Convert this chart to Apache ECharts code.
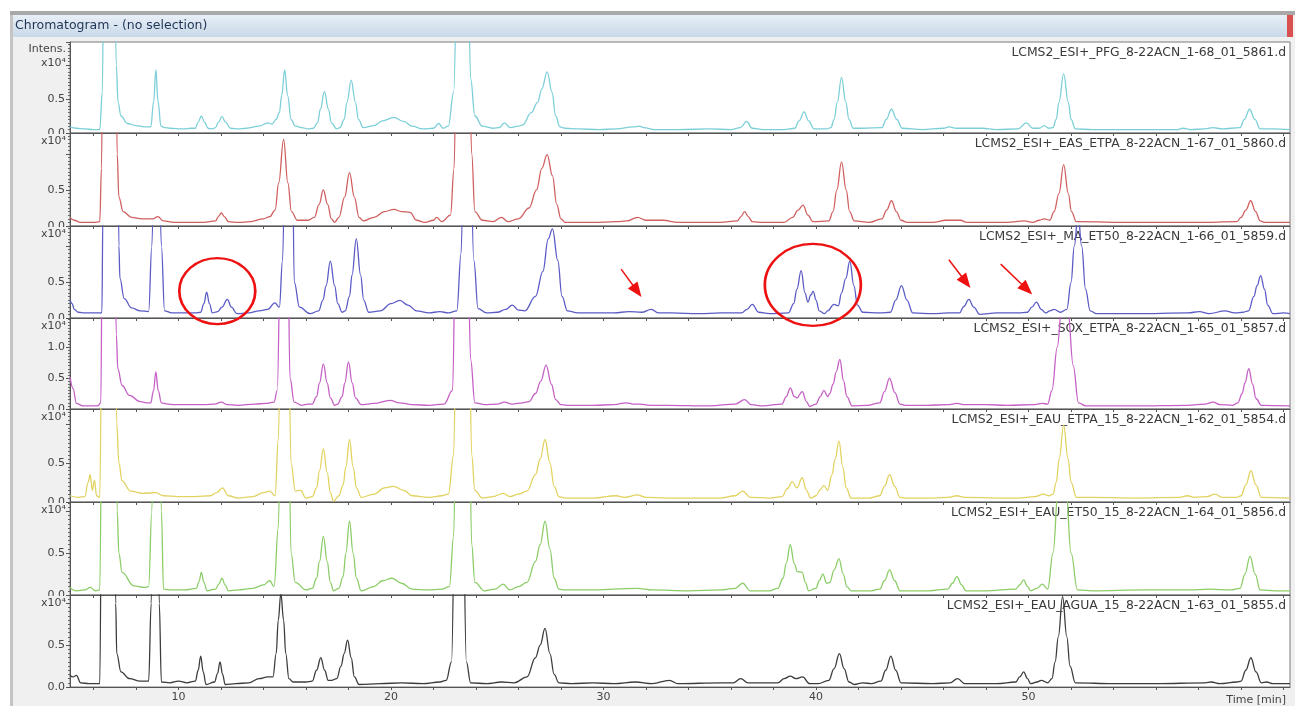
<!DOCTYPE html>
<html><head><meta charset="utf-8">
<script src="https://cdn.jsdelivr.net/npm/echarts@6/dist/echarts.min.js"></script>
<style>html,body{margin:0;padding:0;background:#fff}#c{width:1295px;height:706px}</style>
</head><body><div id="c"></div>
<script>
// ---- data (time [min], intensity x10^4) ----
const timeRange = [4.9, 62.3];
const xLabelValues = [10, 20, 30, 40, 50];
const xTickValues = [6,8,10,12,14,16,18,20,22,24,26,28,30,32,34,36,38,40,42,44,46,48,50,52,54,56,58,60,62];
const traceNames = [
  'LCMS2_ESI+_PFG_8-22ACN_1-68_01_5861.d',
  'LCMS2_ESI+_EAS_ETPA_8-22ACN_1-67_01_5860.d',
  'LCMS2_ESI+_MA_ET50_8-22ACN_1-66_01_5859.d',
  'LCMS2_ESI+_SOX_ETPA_8-22ACN_1-65_01_5857.d',
  'LCMS2_ESI+_EAU_ETPA_15_8-22ACN_1-62_01_5854.d',
  'LCMS2_ESI+_EAU_ET50_15_8-22ACN_1-64_01_5856.d',
  'LCMS2_ESI+_EAU_AGUA_15_8-22ACN_1-63_01_5855.d'
];
const yMaxValues = [1.34, 1.29, 1.28, 1.47, 1.19, 1.11, 1.1];

const tracePFG = [[4.9,0.09],[5.2,0.07],[5.6,0.06],[6.0,0.05],[6.3,0.05],[6.42,0.6],[6.5,3.0],[6.75,4.0],[6.97,3.0],[7.08,1.0],[7.16,0.45],[7.3,0.25],[7.6,0.14],[8.0,0.11],[8.4,0.09],[8.7,0.09],[8.84,0.47],[8.94,0.93],[9.04,0.47],[9.18,0.1],[9.35,0.08],[9.6,0.07],[10.2,0.06],[10.6,0.07],[10.8,0.07],[10.93,0.16],[11.08,0.25],[11.23,0.16],[11.4,0.07],[11.6,0.06],[11.75,0.08],[11.88,0.16],[12.05,0.24],[12.22,0.16],[12.45,0.07],[12.8,0.06],[13.2,0.07],[13.8,0.1],[14.2,0.15],[14.4,0.13],[14.6,0.2],[14.75,0.3],[14.86,0.55],[15.0,0.93],[15.14,0.55],[15.3,0.2],[15.5,0.1],[15.8,0.08],[16.1,0.06],[16.35,0.07],[16.55,0.15],[16.68,0.35],[16.87,0.61],[17.06,0.35],[17.2,0.15],[17.45,0.06],[17.6,0.08],[17.8,0.2],[17.93,0.45],[18.13,0.78],[18.33,0.45],[18.47,0.2],[18.7,0.08],[19.2,0.11],[19.6,0.18],[20.14,0.23],[20.6,0.17],[21.0,0.1],[21.5,0.06],[22.0,0.07],[22.25,0.14],[22.45,0.07],[22.7,0.1],[22.95,0.6],[23.15,3.0],[23.4,4.0],[23.6,3.0],[23.75,0.8],[23.95,0.25],[24.3,0.1],[24.8,0.07],[25.1,0.08],[25.34,0.15],[25.6,0.08],[26.0,0.1],[26.2,0.12],[26.6,0.3],[26.9,0.45],[27.1,0.65],[27.35,0.9],[27.58,0.6],[27.75,0.25],[27.95,0.09],[28.2,0.07],[28.8,0.06],[29.8,0.05],[30.6,0.06],[31.4,0.09],[31.7,0.1],[31.9,0.08],[32.4,0.05],[33.5,0.05],[35.0,0.06],[36.0,0.05],[36.45,0.08],[36.73,0.17],[37.0,0.07],[37.5,0.05],[38.5,0.05],[39.0,0.07],[39.2,0.18],[39.44,0.31],[39.65,0.18],[39.9,0.06],[40.5,0.06],[40.7,0.08],[40.85,0.2],[41.0,0.45],[41.2,0.82],[41.4,0.45],[41.55,0.2],[41.75,0.07],[42.2,0.07],[43.1,0.08],[43.3,0.2],[43.55,0.35],[43.8,0.2],[44.05,0.07],[45.0,0.05],[46.0,0.07],[46.26,0.09],[46.6,0.07],[47.8,0.07],[48.5,0.05],[49.5,0.06],[49.9,0.15],[50.2,0.07],[50.5,0.07],[50.74,0.11],[50.95,0.07],[51.15,0.08],[51.3,0.2],[51.43,0.45],[51.65,0.87],[51.87,0.45],[52.0,0.2],[52.2,0.06],[53,0.05],[55,0.05],[57,0.05],[57.28,0.07],[57.6,0.05],[58.3,0.06],[58.68,0.08],[59.1,0.06],[59.95,0.08],[60.15,0.2],[60.4,0.35],[60.65,0.2],[60.9,0.06],[61.5,0.06],[62.3,0.05]];

const traceEAS = [[4.9,0.12],[5.1,0.08],[5.4,0.05],[6.0,0.05],[6.3,0.06],[6.38,0.8],[6.45,3.0],[6.75,4.0],[7.05,3.0],[7.12,1.0],[7.2,0.4],[7.4,0.2],[7.8,0.12],[8.3,0.1],[8.8,0.1],[9.03,0.13],[9.3,0.07],[9.8,0.05],[10.6,0.05],[11.2,0.05],[11.75,0.07],[11.88,0.13],[12.02,0.18],[12.16,0.13],[12.35,0.06],[12.8,0.05],[13.4,0.06],[14.0,0.1],[14.3,0.13],[14.55,0.22],[14.72,0.6],[14.95,1.2],[15.15,0.6],[15.32,0.2],[15.6,0.08],[16.1,0.08],[16.4,0.12],[16.62,0.3],[16.82,0.5],[17.02,0.3],[17.2,0.1],[17.35,0.05],[17.55,0.12],[17.82,0.4],[18.05,0.74],[18.28,0.4],[18.5,0.12],[18.7,0.07],[19.2,0.12],[19.7,0.2],[20.14,0.23],[20.5,0.2],[20.9,0.19],[21.2,0.08],[21.6,0.05],[22.0,0.08],[22.15,0.12],[22.4,0.06],[22.8,0.15],[22.97,0.8],[23.1,3.0],[23.4,4.0],[23.65,3.0],[23.8,1.0],[23.95,0.2],[24.3,0.08],[24.8,0.06],[25.2,0.12],[25.5,0.06],[26.0,0.1],[26.5,0.25],[26.85,0.5],[27.1,0.8],[27.35,0.99],[27.6,0.7],[27.8,0.3],[28.0,0.1],[28.2,0.05],[29.5,0.05],[30.6,0.06],[31.1,0.07],[31.6,0.12],[32.0,0.08],[32.8,0.08],[33.5,0.05],[35.5,0.05],[36.3,0.07],[36.47,0.13],[36.64,0.2],[36.81,0.13],[37.0,0.06],[37.5,0.05],[38.5,0.05],[38.9,0.12],[39.15,0.22],[39.39,0.29],[39.62,0.15],[39.85,0.06],[40.6,0.07],[40.8,0.2],[40.98,0.5],[41.2,0.89],[41.42,0.5],[41.58,0.2],[41.8,0.07],[42.5,0.05],[43.1,0.1],[43.32,0.22],[43.55,0.35],[43.78,0.2],[44.0,0.08],[44.3,0.05],[45.5,0.05],[46.1,0.08],[46.5,0.08],[46.8,0.08],[47.1,0.05],[49.0,0.05],[49.8,0.07],[50.2,0.05],[50.5,0.08],[50.74,0.1],[51.0,0.08],[51.2,0.2],[51.43,0.45],[51.65,0.85],[51.87,0.45],[52.02,0.2],[52.25,0.06],[55,0.05],[58,0.05],[59.8,0.06],[60.0,0.12],[60.22,0.22],[60.45,0.35],[60.68,0.2],[60.9,0.07],[61.1,0.05],[62.3,0.05]];

const traceMA = [[4.9,0.25],[5.0,0.2],[5.1,0.12],[5.3,0.08],[5.6,0.07],[6.2,0.07],[6.4,0.07],[6.45,1.5],[6.52,3.0],[6.85,4.0],[7.15,3.0],[7.2,1.0],[7.25,0.55],[7.45,0.27],[7.8,0.14],[8.2,0.1],[8.6,0.09],[8.75,1.0],[8.9,3.0],[9.05,3.0],[9.2,1.0],[9.35,0.1],[9.7,0.07],[10.3,0.07],[10.8,0.07],[11.05,0.08],[11.2,0.2],[11.33,0.36],[11.46,0.2],[11.6,0.07],[11.85,0.09],[12.05,0.15],[12.3,0.26],[12.5,0.15],[12.75,0.06],[13.3,0.07],[13.8,0.1],[14.2,0.12],[14.54,0.21],[14.75,0.15],[14.9,0.8],[15.05,3.0],[15.35,3.0],[15.45,0.5],[15.7,0.15],[16.2,0.06],[16.6,0.1],[16.8,0.25],[16.95,0.45],[17.15,0.79],[17.35,0.45],[17.5,0.2],[17.7,0.08],[17.85,0.1],[18.05,0.3],[18.17,0.6],[18.37,1.1],[18.57,0.6],[18.72,0.25],[18.95,0.08],[19.5,0.1],[20.0,0.2],[20.42,0.245],[20.8,0.18],[21.2,0.1],[21.8,0.07],[22.3,0.09],[22.7,0.07],[23.1,0.1],[23.3,0.9],[23.45,3.0],[23.7,3.0],[23.9,0.8],[24.1,0.13],[24.5,0.07],[25.0,0.08],[25.4,0.12],[25.71,0.18],[26.0,0.11],[26.3,0.1],[26.8,0.3],[27.15,0.65],[27.4,1.1],[27.6,1.24],[27.85,0.8],[28.05,0.3],[28.3,0.1],[28.8,0.07],[29.5,0.07],[30.5,0.07],[31.2,0.09],[31.8,0.08],[32.25,0.12],[32.6,0.07],[33.2,0.07],[34.5,0.06],[35.5,0.07],[36.5,0.07],[36.75,0.12],[37.0,0.19],[37.3,0.08],[37.8,0.06],[38.7,0.07],[38.95,0.2],[39.1,0.4],[39.3,0.66],[39.48,0.35],[39.62,0.22],[39.75,0.32],[39.87,0.37],[40.0,0.25],[40.15,0.1],[40.4,0.06],[40.55,0.1],[40.84,0.19],[41.05,0.17],[41.2,0.35],[41.4,0.55],[41.59,0.79],[41.78,0.45],[41.95,0.18],[42.2,0.08],[43.0,0.07],[43.5,0.08],[43.75,0.25],[44.02,0.45],[44.28,0.25],[44.55,0.07],[45.5,0.06],[46.2,0.07],[46.75,0.07],[46.95,0.16],[47.19,0.26],[47.42,0.15],[47.7,0.05],[48.5,0.07],[49.5,0.07],[49.95,0.08],[50.15,0.15],[50.37,0.22],[50.6,0.12],[50.8,0.07],[51.0,0.1],[51.2,0.12],[51.5,0.08],[51.8,0.12],[52.0,0.5],[52.15,1.0],[52.33,1.45],[52.5,1.0],[52.68,0.4],[52.9,0.1],[53.2,0.06],[55,0.06],[57.5,0.07],[58.03,0.09],[58.5,0.06],[59.24,0.1],[59.7,0.07],[60.1,0.08],[60.35,0.1],[60.6,0.3],[60.75,0.45],[60.92,0.59],[61.1,0.4],[61.25,0.18],[61.5,0.06],[62.0,0.07],[62.3,0.06]];

const traceSOX = [[4.9,0.52],[5.05,0.33],[5.2,0.09],[5.5,0.05],[6.2,0.05],[6.35,0.1],[6.42,3.0],[6.75,4.0],[7.0,3.0],[7.08,1.2],[7.15,0.65],[7.35,0.38],[7.7,0.22],[8.2,0.12],[8.5,0.1],[8.7,0.1],[8.83,0.3],[8.94,0.6],[9.05,0.3],[9.2,0.1],[9.5,0.08],[9.8,0.07],[10.5,0.07],[11.2,0.07],[11.7,0.08],[12.02,0.11],[12.3,0.07],[12.8,0.06],[13.6,0.08],[14.1,0.09],[14.5,0.11],[14.65,0.3],[14.82,3.0],[15.14,3.0],[15.25,0.5],[15.45,0.11],[15.8,0.06],[16.1,0.08],[16.3,0.08],[16.5,0.2],[16.64,0.42],[16.82,0.73],[17.0,0.42],[17.15,0.18],[17.35,0.06],[17.5,0.08],[17.7,0.2],[17.83,0.42],[18.0,0.76],[18.18,0.42],[18.33,0.18],[18.6,0.07],[19.2,0.09],[19.96,0.14],[20.4,0.1],[21.0,0.07],[21.8,0.06],[22.5,0.08],[22.9,0.3],[23.05,3.0],[23.35,4.0],[23.6,3.0],[23.75,0.8],[23.95,0.1],[24.4,0.07],[25.0,0.08],[25.34,0.11],[25.7,0.08],[26.2,0.1],[26.5,0.12],[26.8,0.25],[27.05,0.45],[27.3,0.71],[27.55,0.4],[27.75,0.15],[28.0,0.07],[28.3,0.06],[29.5,0.06],[30.5,0.07],[31.07,0.1],[31.4,0.08],[31.7,0.08],[32.2,0.06],[33.0,0.06],[35.0,0.05],[36.2,0.08],[36.64,0.15],[36.95,0.07],[37.5,0.05],[38.4,0.08],[38.6,0.2],[38.79,0.34],[38.98,0.2],[39.1,0.18],[39.35,0.28],[39.55,0.12],[39.7,0.04],[40.0,0.08],[40.2,0.2],[40.37,0.3],[40.55,0.2],[40.65,0.25],[40.8,0.4],[40.95,0.6],[41.12,0.8],[41.3,0.45],[41.45,0.2],[41.7,0.05],[42.4,0.06],[43.0,0.1],[43.22,0.28],[43.46,0.5],[43.7,0.27],[43.95,0.08],[44.2,0.06],[45.2,0.06],[46.2,0.07],[46.63,0.09],[47.0,0.07],[48.0,0.07],[49.0,0.06],[50.2,0.07],[50.65,0.09],[50.9,0.08],[51.1,0.3],[51.35,1.0],[51.55,1.6],[51.85,1.6],[52.1,0.7],[52.35,0.1],[52.7,0.05],[55,0.05],[57.5,0.06],[58.3,0.08],[58.68,0.11],[59.0,0.07],[59.6,0.06],[59.85,0.1],[60.05,0.25],[60.18,0.42],[60.36,0.65],[60.54,0.4],[60.7,0.17],[60.95,0.06],[62.3,0.05]];

const traceEAU15 = [[4.9,0.08],[5.3,0.06],[5.6,0.07],[5.75,0.25],[5.85,0.35],[5.95,0.15],[6.05,0.28],[6.15,0.08],[6.3,0.06],[6.42,3.0],[6.75,4.0],[7.0,3.0],[7.1,1.0],[7.2,0.5],[7.35,0.27],[7.75,0.14],[8.3,0.11],[8.94,0.12],[9.3,0.08],[10.0,0.07],[10.8,0.07],[11.5,0.08],[11.8,0.12],[12.07,0.18],[12.35,0.08],[12.8,0.05],[13.5,0.07],[14.0,0.12],[14.3,0.14],[14.55,0.08],[14.7,0.8],[14.85,3.0],[15.15,3.0],[15.3,0.5],[15.5,0.14],[15.75,0.15],[16.0,0.05],[16.3,0.07],[16.5,0.18],[16.64,0.4],[16.82,0.68],[17.0,0.38],[17.15,0.12],[17.3,0.01],[17.55,0.08],[17.75,0.22],[17.88,0.45],[18.05,0.8],[18.22,0.45],[18.38,0.18],[18.6,0.06],[19.2,0.1],[19.7,0.18],[20.11,0.2],[20.6,0.15],[21.0,0.08],[21.8,0.06],[22.4,0.08],[22.7,0.1],[22.95,0.6],[23.1,3.0],[23.4,4.0],[23.65,3.0],[23.8,0.6],[23.95,0.15],[24.3,0.05],[24.8,0.07],[25.28,0.11],[25.6,0.07],[26.0,0.1],[26.4,0.14],[26.8,0.35],[27.02,0.55],[27.25,0.8],[27.48,0.5],[27.68,0.2],[27.9,0.07],[28.2,0.05],[29.5,0.05],[30.6,0.08],[31.0,0.06],[31.6,0.09],[32.0,0.06],[33.0,0.05],[35.5,0.05],[36.2,0.08],[36.55,0.14],[36.9,0.06],[37.8,0.05],[38.4,0.07],[38.65,0.17],[38.88,0.26],[39.1,0.18],[39.35,0.31],[39.55,0.15],[39.75,0.05],[40.0,0.08],[40.2,0.16],[40.37,0.21],[40.55,0.15],[40.75,0.35],[40.9,0.55],[41.08,0.78],[41.26,0.45],[41.42,0.18],[41.65,0.05],[42.5,0.05],[43.0,0.08],[43.22,0.2],[43.46,0.35],[43.7,0.2],[43.95,0.06],[44.2,0.05],[45.5,0.05],[46.2,0.06],[46.63,0.08],[47.0,0.06],[48.5,0.05],[49.5,0.05],[50.3,0.07],[50.7,0.1],[50.95,0.08],[51.15,0.1],[51.3,0.25],[51.44,0.55],[51.65,0.98],[51.86,0.55],[52.0,0.25],[52.25,0.06],[53.0,0.06],[55,0.05],[57.1,0.06],[57.47,0.08],[57.8,0.06],[58.4,0.07],[58.78,0.1],[59.1,0.06],[59.8,0.06],[60.0,0.08],[60.22,0.22],[60.46,0.4],[60.7,0.22],[60.95,0.06],[62.3,0.05]];

const traceEAU50 = [[4.9,0.09],[5.2,0.05],[5.6,0.06],[5.85,0.09],[6.1,0.05],[6.3,0.06],[6.42,3.0],[6.75,4.0],[7.05,3.0],[7.12,1.0],[7.2,0.5],[7.35,0.27],[7.9,0.11],[8.4,0.09],[8.6,0.1],[8.75,1.0],[8.88,3.0],[9.08,3.0],[9.2,1.0],[9.3,0.07],[9.7,0.06],[10.3,0.06],[10.85,0.08],[10.97,0.16],[11.08,0.27],[11.2,0.15],[11.35,0.05],[11.75,0.07],[11.9,0.13],[12.05,0.2],[12.2,0.12],[12.35,0.05],[12.8,0.06],[13.5,0.08],[14.0,0.12],[14.3,0.17],[14.5,0.1],[14.7,0.8],[14.85,3.0],[15.15,3.0],[15.3,0.5],[15.5,0.15],[16.0,0.06],[16.3,0.08],[16.5,0.2],[16.64,0.4],[16.82,0.7],[17.0,0.4],[17.15,0.15],[17.3,0.05],[17.55,0.08],[17.75,0.22],[17.88,0.5],[18.05,0.88],[18.22,0.5],[18.38,0.2],[18.6,0.05],[19.2,0.1],[19.6,0.17],[20.05,0.2],[20.5,0.14],[21.0,0.07],[21.7,0.06],[22.4,0.07],[22.75,0.1],[22.95,0.7],[23.1,3.0],[23.4,4.0],[23.65,3.0],[23.8,0.6],[23.95,0.15],[24.4,0.05],[24.9,0.07],[25.28,0.13],[25.6,0.06],[26.0,0.1],[26.4,0.15],[26.8,0.4],[27.02,0.6],[27.25,0.88],[27.48,0.55],[27.68,0.2],[27.9,0.07],[28.2,0.06],[29.5,0.06],[30.5,0.07],[31.6,0.08],[32.3,0.06],[34,0.05],[35.5,0.06],[36.2,0.08],[36.55,0.14],[36.9,0.05],[37.8,0.05],[38.2,0.08],[38.45,0.2],[38.6,0.38],[38.79,0.6],[38.97,0.38],[39.12,0.28],[39.35,0.27],[39.5,0.15],[39.65,0.05],[40.0,0.08],[40.15,0.17],[40.32,0.25],[40.5,0.14],[40.65,0.15],[40.85,0.3],[41.08,0.43],[41.28,0.25],[41.45,0.1],[41.65,0.05],[42.6,0.05],[43.0,0.07],[43.22,0.17],[43.46,0.3],[43.7,0.17],[43.95,0.05],[45.3,0.05],[46.2,0.07],[46.42,0.14],[46.63,0.22],[46.85,0.12],[47.05,0.05],[48,0.05],[49.4,0.07],[49.58,0.12],[49.77,0.18],[49.95,0.1],[50.1,0.05],[50.4,0.08],[50.65,0.13],[50.9,0.07],[51.15,0.5],[51.4,1.3],[51.75,1.3],[52.0,0.5],[52.3,0.06],[53,0.05],[55.5,0.06],[57.5,0.06],[58.5,0.07],[59.5,0.06],[59.95,0.08],[60.18,0.25],[60.42,0.46],[60.66,0.25],[60.9,0.06],[61.6,0.05],[62.3,0.05]];

const traceAGUA = [[4.9,0.14],[5.05,0.12],[5.2,0.14],[5.4,0.05],[5.8,0.04],[6.3,0.04],[6.4,3.0],[6.7,4.0],[6.98,3.0],[7.05,1.0],[7.1,0.4],[7.3,0.18],[7.7,0.1],[8.2,0.07],[8.6,0.07],[8.72,1.0],[8.82,3.0],[9.0,3.0],[9.1,1.0],[9.2,0.06],[9.6,0.05],[10.0,0.07],[10.4,0.05],[10.8,0.07],[10.93,0.2],[11.05,0.37],[11.17,0.18],[11.3,0.03],[11.7,0.06],[11.84,0.16],[11.96,0.3],[12.08,0.15],[12.2,0.03],[12.7,0.04],[13.3,0.05],[13.8,0.1],[14.2,0.12],[14.45,0.12],[14.6,0.4],[14.7,0.8],[14.82,1.12],[14.95,0.8],[15.05,0.4],[15.2,0.1],[15.4,0.06],[16.0,0.06],[16.3,0.07],[16.5,0.2],[16.7,0.35],[16.88,0.2],[17.05,0.08],[17.2,0.08],[17.45,0.1],[17.65,0.25],[17.8,0.4],[17.96,0.56],[18.13,0.35],[18.28,0.12],[18.5,0.03],[19.5,0.04],[20.5,0.05],[21.5,0.04],[22.3,0.06],[22.6,0.08],[22.85,0.3],[23.05,3.0],[23.35,3.0],[23.55,0.3],[23.75,0.05],[24.5,0.04],[25.2,0.06],[25.8,0.05],[26.4,0.12],[26.8,0.35],[27.02,0.5],[27.25,0.7],[27.48,0.4],[27.68,0.15],[27.9,0.05],[28.5,0.04],[29.5,0.05],[30.5,0.04],[31.5,0.06],[32.3,0.04],[33.1,0.08],[33.5,0.04],[35.5,0.05],[36.1,0.05],[36.46,0.1],[36.8,0.05],[38.2,0.05],[38.5,0.1],[38.79,0.13],[39.05,0.1],[39.37,0.12],[39.7,0.04],[40.1,0.04],[40.6,0.08],[40.85,0.22],[41.1,0.4],[41.32,0.22],[41.55,0.06],[41.8,0.03],[42.2,0.05],[42.6,0.04],[43.05,0.07],[43.28,0.2],[43.52,0.37],[43.75,0.2],[44.0,0.05],[45.5,0.04],[46.3,0.05],[46.66,0.1],[47.0,0.04],[48.5,0.04],[49.4,0.06],[49.58,0.12],[49.77,0.18],[49.95,0.1],[50.1,0.04],[50.4,0.06],[50.6,0.08],[50.9,0.05],[51.1,0.1],[51.25,0.3],[51.4,0.6],[51.6,1.08],[51.8,0.6],[51.95,0.25],[52.2,0.05],[54,0.04],[56,0.04],[58.3,0.05],[58.6,0.06],[59.0,0.04],[59.8,0.06],[60.0,0.07],[60.22,0.2],[60.46,0.35],[60.7,0.18],[60.95,0.05],[61.2,0.06],[61.5,0.04],[62.3,0.04]];

const traces = [tracePFG, traceEAS, traceMA, traceSOX, traceEAU15, traceEAU50, traceAGUA];

// annotations on the MA_ET50 trace (time, intensity)
const circleCenters = [[11.83, 0.375], [39.85, 0.46]];
const arrowTails = [[30.83, 0.68], [46.25, 0.81], [48.69, 0.75]];
const arrowTips = [[31.58, 0.375], [47.05, 0.5], [49.92, 0.4]];

// ---- layout & style ----
const lineColors = ['#7ccfd8', '#d06060', '#5b5bc6', '#c560c5', '#e2d260', '#8ccd68', '#3c3c3c'];
const gridTops = [42, 133, 226, 318, 409, 502, 595];
const gridHeights = [91, 93, 92, 91, 93, 93, 92];
const circleSizes = [[76, 66], [96, 82]];
const FONT = 'DejaVu Sans';

const chart = echarts.init(document.getElementById('c'), null, {renderer: 'canvas'});

const grids = [], xAxes = [], yAxes = [], series = [];
const graphics = [
  {type:'rect', shape:{x:0,y:0,width:1295,height:11}, style:{fill:'#ffffff'}},
  {type:'rect', shape:{x:0,y:0,width:10,height:706}, style:{fill:'#ffffff'}},
  {type:'rect', shape:{x:10,y:11,width:1285,height:4}, style:{fill:'#a9a9a9'}},
  {type:'rect', shape:{x:10,y:15,width:3,height:691}, style:{fill:'#c4c4c4'}},
  {type:'rect', shape:{x:13,y:15,width:1274,height:22}, style:{fill:new echarts.graphic.LinearGradient(0,0,0,1,[{offset:0,color:'#e8eff7'},{offset:1,color:'#c9d8e8'}])}},
  {type:'rect', shape:{x:1287,y:15,width:6,height:22}, style:{fill:'#d85050'}},
  {type:'text', x:15, y:26, style:{text:'Chromatogram - (no selection)', font:'12.5px "'+FONT+'"', fill:'#1d3553', verticalAlign:'middle'}},
  {type:'text', x:66, y:49, style:{text:'Intens.', font:'11px "'+FONT+'"', fill:'#444', align:'right', verticalAlign:'middle'}},
  {type:'text', x:1286, y:700, style:{text:'Time [min]', font:'11px "'+FONT+'"', fill:'#444', align:'right', verticalAlign:'middle'}}
];

traces.forEach((tr, i) => {
  grids.push({left:70, right:5, top:gridTops[i], height:gridHeights[i], show:true, backgroundColor:'#ffffff', borderColor:'#7a7a7a', borderWidth:1});
  const last = i === traces.length - 1;
  xAxes.push({
    type:'value', gridIndex:i, min:timeRange[0], max:timeRange[1],
    axisLine:{show:true, lineStyle:{color:'#555', width:1}},
    axisTick:{show:true, customValues:xTickValues, length:3, lineStyle:{color:'#555'}},
    axisLabel:{show:last, customValues:xLabelValues, fontSize:11, color:'#444', fontFamily:FONT, margin:5},
    splitLine:{show:false}
  });
  const showOne = i === 3;
  yAxes.push({
    type:'value', gridIndex:i, min:0, max:yMaxValues[i], interval:0.5,
    axisLine:{show:true, lineStyle:{color:'#555', width:1}},
    axisTick:{show:true, length:4, lineStyle:{color:'#555'}},
    minorTick:{show:true, splitNumber:10, length:2, lineStyle:{color:'#666'}},
    splitLine:{show:false},
    axisLabel:{
      showMaxLabel:false, fontSize:11, color:'#444', fontFamily:FONT, margin:5,
      formatter: v => v === 0 ? '0.0' : (Math.abs(v-0.5) < 1e-9 ? '0.5' : (showOne && Math.abs(v-1) < 1e-9 ? '1.0' : ''))
    }
  });
  const s = {
    type:'line', xAxisIndex:i, yAxisIndex:i, data:tr, showSymbol:false, symbol:'none',
    smooth:0.4, smoothMonotone:'x', clip:true, silent:true, animation:false,
    lineStyle:{color:lineColors[i], width:1.3}
  };
  if (i === 2) {
    s.markPoint = {
      silent:true, animation:false, symbol:'circle',
      itemStyle:{color:'rgba(0,0,0,0)', borderColor:'#ee1111', borderWidth:2.5},
      label:{show:false},
      data: circleCenters.map((c, k) => ({coord:c, symbolSize:circleSizes[k]}))
    };
    s.markLine = {
      silent:true, animation:false,
      lineStyle:{color:'#ee1111', width:1.5, type:'solid'},
      label:{show:false},
      data: arrowTails.map((t, k) => [
        {coord:t, symbol:'none'},
        {coord:arrowTips[k], symbol:'triangle', symbolSize:[12, 15], itemStyle:{color:'#ee1111'}}
      ])
    };
  }
  series.push(s);
  if (i > 0) {
    // lower half of the previous panel's "0.0" label is hidden behind this panel's header, as in the source software
    graphics.push({type:'rect', z:100, shape:{x:36, y:gridTops[i] + 1, width:29, height:8}, style:{fill:'#f0f0f0'}});
  }
  graphics.push({type:'text', z:101, x:66, y: i === 0 ? 63 : gridTops[i] + 8,
    style:{text:'x10\u2074', font:'11px "'+FONT+'"', fill:'#444', align:'right', verticalAlign:'middle'}});
  graphics.push({type:'text', x:1286, y:gridTops[i] + 11,
    style:{text:traceNames[i], font:'12.4px "'+FONT+'"', fill:'#3a3a3a', align:'right', verticalAlign:'middle'}});
});

chart.setOption({
  backgroundColor:'#f0f0f0',
  animation:false,
  grid:grids, xAxis:xAxes, yAxis:yAxes, series:series,
  graphic:{elements:graphics}
});
</script></body></html>
